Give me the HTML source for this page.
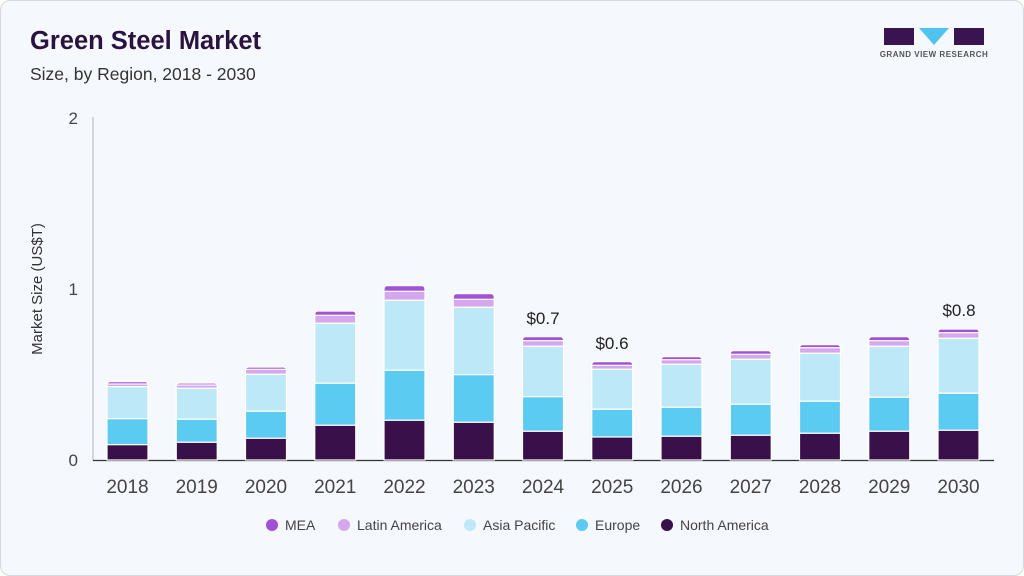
<!DOCTYPE html>
<html><head><meta charset="utf-8"><style>
body{margin:0;background:#fff;}
.card{position:absolute;left:0;top:0;width:1022px;height:574px;border:1px solid #d6d9de;border-radius:10px;background:#f5f8fc;overflow:hidden;font-family:"Liberation Sans",sans-serif;}
</style></head><body>
<div class="card">
<svg width="1024" height="576" xmlns="http://www.w3.org/2000/svg" style="position:absolute;left:-1px;top:-1px">
<text x="30" y="49" font-family="Liberation Sans" font-weight="bold" font-size="25.5" fill="#2b1340">Green Steel Market</text>
<text x="30" y="80" font-family="Liberation Sans" font-size="17.5" fill="#333">Size, by Region, 2018 - 2030</text>
<rect x="884" y="28" width="30" height="17" fill="#3a1450"/>
<polygon points="919,28 949,28 934,45" fill="#4fc3ee"/>
<rect x="954" y="28" width="30" height="17" fill="#3a1450"/>
<text x="934" y="57" font-family="Liberation Sans" font-weight="bold" font-size="8" fill="#555" text-anchor="middle" letter-spacing="0.5">GRAND VIEW RESEARCH</text>
<line x1="93" y1="117" x2="93" y2="461" stroke="#ccc" stroke-width="1.5"/>
<line x1="93" y1="460.5" x2="994" y2="460.5" stroke="#333" stroke-width="1.2"/>
<g font-family="Liberation Sans" font-size="17" fill="#444" text-anchor="end">
<text x="78" y="124">2</text><text x="78" y="295">1</text><text x="78" y="466">0</text></g>
<text transform="translate(42,289) rotate(-90)" font-family="Liberation Sans" font-size="15" fill="#333" text-anchor="middle">Market Size (US$T)</text>
<g id="bars" stroke="#fff" stroke-width="1.2"></g>
<g font-family="Liberation Sans" font-size="19" fill="#444" text-anchor="middle" id="xl"></g>
<g font-family="Liberation Sans" font-size="17" fill="#222" text-anchor="middle">
<text x="543" y="324">$0.7</text><text x="612" y="349">$0.6</text><text x="959" y="316">$0.8</text></g>
<g font-family="Liberation Sans" font-size="14" fill="#444">
<circle cx="272" cy="525" r="6" fill="#a051d6"/><text x="285" y="530">MEA</text>
<circle cx="344" cy="525" r="6" fill="#d5a8ec"/><text x="357" y="530">Latin America</text>
<circle cx="470" cy="525" r="6" fill="#bde8f8"/><text x="483" y="530">Asia Pacific</text>
<circle cx="582" cy="525" r="6" fill="#5ccbf2"/><text x="595" y="530">Europe</text>
<circle cx="667" cy="525" r="6" fill="#391049"/><text x="680" y="530">North America</text>
</g>
</svg>
</div>
<script>
var d=[[381.7,384,386.7,418.7,444.7],[383,385,388.3,419.3,442.3],[367,369.3,374.3,411.3,438.3],[311,315.3,323.3,383.3,425.3],[285.7,291.3,300.3,370.3,420.3],[293.7,299.3,307.3,374.7,422.3],[336.7,340.7,346.3,396.7,431.3],[361.7,365.3,369.3,409.3,437],[356.7,359.7,364.3,407.3,436.3],[350.7,354.3,359.3,404.3,435.3],[344.7,347.7,353.3,401.3,433.3],[336.7,340.7,346.3,397.3,431.3],[329,332.7,338.3,393.3,430.3]];
var c=["#a051d6","#d5a8ec","#bde8f8","#5ccbf2","#391049"];
var ns="http://www.w3.org/2000/svg",g=document.getElementById("bars"),xl=document.getElementById("xl");
d.forEach(function(b,i){var x=107+i*69.25,w=41;var ys=b.concat([460]);
for(var k=0;k<5;k++){var r=document.createElementNS(ns,"rect");r.setAttribute("x",x);r.setAttribute("y",ys[k]);r.setAttribute("width",w);r.setAttribute("height",Math.max(ys[k+1]-ys[k],0.5));r.setAttribute("fill",c[k]);if(k==0){r.setAttribute("rx",3);r.setAttribute("height",ys[1]-ys[0]+3);}g.appendChild(r);}
var t=document.createElementNS(ns,"text");t.setAttribute("x",x+w/2);t.setAttribute("y",493);t.textContent=2018+i;xl.appendChild(t);});
</script>
</body></html>
